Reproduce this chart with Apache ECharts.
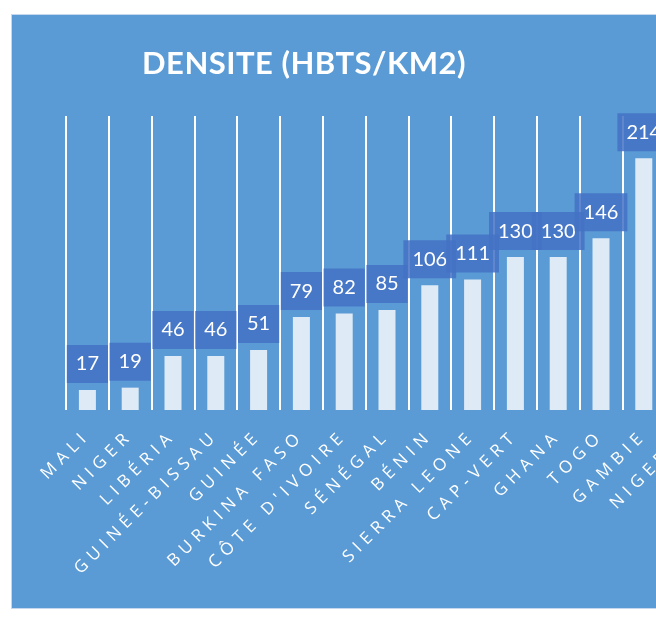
<!DOCTYPE html>
<html>
<head>
<meta charset="utf-8">
<script src="https://cdn.jsdelivr.net/npm/echarts@6/dist/echarts.min.js"></script>
<style>
  html, body { margin: 0; padding: 0; background: #ffffff; width: 656px; height: 621px; overflow: hidden; }
  #frame { position: absolute; left: 11px; top: 14px; width: 760px; height: 593px; border: 1px solid #c5d8ee; background: #5b9bd5; }
  #chart { position: absolute; left: 0; top: 0; width: 760px; height: 593px; }
</style>
</head>
<body>
<div id="frame"><div id="chart"></div></div>
<script>
const titleText = 'DENSITE (HBTS/KM2)';
const categories = ['MALI', 'NIGER', 'LIBÉRIA', 'GUINÉE-BISSAU', 'GUINÉE', 'BURKINA FASO', "CÔTE D'IVOIRE", 'SÉNÉGAL', 'BÉNIN', 'SIERRA LEONE', 'CAP-VERT', 'GHANA', 'TOGO', 'GAMBIE', 'NIGERIA'];
const densities = [17, 19, 46, 46, 51, 79, 82, 85, 106, 111, 130, 130, 146, 214, 226];
</script>
<script>
// letter spacing: wide for category labels (Open Sans), slight for the title (bold Lato)
(function () {
  const proto = CanvasRenderingContext2D.prototype;
  const orig = proto.fillText;
  proto.fillText = function (t, x, y, m) {
    if ('letterSpacing' in this) {
      const f = this.font || '';
      let ls = '0px';
      if (f.indexOf('Open Sans') >= 0) ls = '5.5px';
      else if (f.indexOf('bold') >= 0 || f.indexOf('700') >= 0) ls = '0.5px';
      this.letterSpacing = ls;
      this.font = f;
    }
    if (m === undefined) orig.call(this, t, x, y); else orig.call(this, t, x, y, m);
  };
})();
</script>
<script>
const chart = echarts.init(document.getElementById('chart'), null, { renderer: 'canvas' });
chart.setOption({
  backgroundColor: '#5b9bd5',
  animation: false,
  title: {
    text: titleText,
    left: 125,
    top: 28,
    textStyle: { color: '#ffffff', fontFamily: 'Lato', fontWeight: 'bold', fontSize: 31 }
  },
  grid: { left: 54, top: 101, width: 642, height: 294, containLabel: false },
  xAxis: {
    type: 'category',
    data: categories,
    boundaryGap: true,
    axisLine: { show: false },
    axisTick: { show: false },
    splitLine: { show: true, interval: 0, lineStyle: { color: '#ffffff', width: 2 } },
    axisLabel: {
      interval: 0,
      rotate: 45,
      margin: 23,
      color: '#ffffff',
      fontFamily: 'Open Sans',
      fontSize: 17
    }
  },
  yAxis: {
    type: 'value',
    min: 0,
    max: 250,
    show: false,
    splitLine: { show: false }
  },
  series: [{
    type: 'bar',
    data: densities,
    barWidth: 17,
    itemStyle: { color: '#deebf7' },
    label: {
      show: true,
      position: 'top',
      distance: 7,
      color: '#ffffff',
      fontFamily: 'Lato',
      fontSize: 20,
      lineHeight: 18,
      padding: [10, 9],
      backgroundColor: 'rgba(68,114,196,0.85)'
    }
  }]
});
</script>
</body>
</html>
